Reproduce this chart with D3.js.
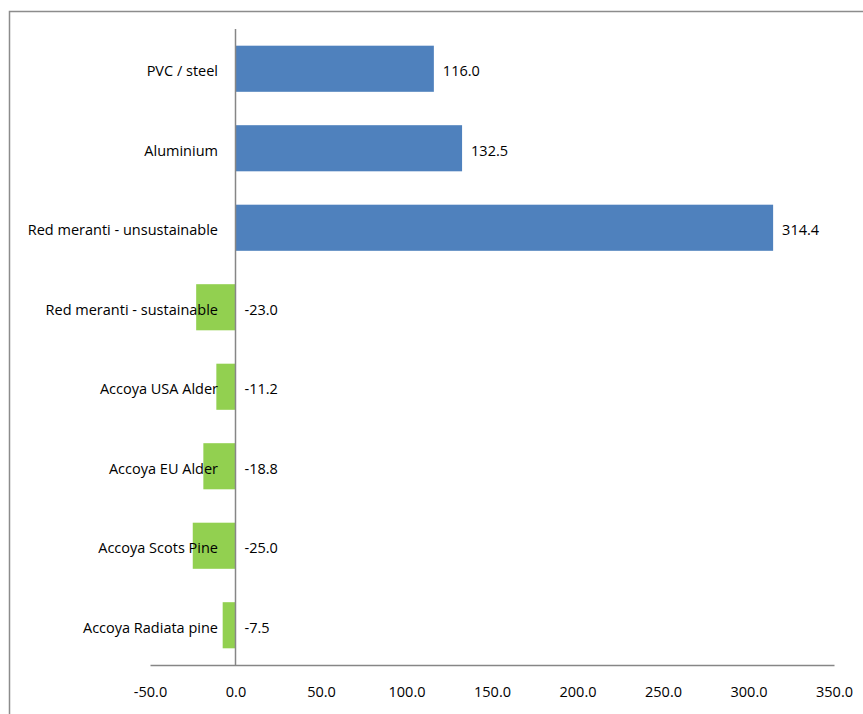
<!DOCTYPE html>
<html>
<head>
<meta charset="utf-8">
<script src="https://cdn.jsdelivr.net/npm/d3@7"></script>
<style>
  html, body { margin: 0; padding: 0; background: #fff; }
  svg { display: block; }
  text { font-family: "Open Sans", "Noto Sans", sans-serif; fill: #000; }
</style>
</head>
<body>
<svg id="chart" width="863" height="714"></svg>
<script>
const categories = ["PVC / steel", "Aluminium", "Red meranti - unsustainable", "Red meranti - sustainable",
                    "Accoya USA Alder", "Accoya EU Alder", "Accoya Scots Pine", "Accoya Radiata pine"];
const values = [116.0, 132.5, 314.4, -23.0, -11.2, -18.8, -25.0, -7.5];
const tickValues = [-50, 0, 50, 100, 150, 200, 250, 300, 350];

const svg = d3.select("#chart");
const fontSize = 14.5;
const fmt = v => d3.format(".1f")(v).replace("\u2212", "-");

// outer border (extends past the picture right & bottom)
svg.append("rect").attr("x", 9.5).attr("y", 11.5).attr("width", 900).attr("height", 800)
  .attr("fill", "none").attr("stroke", "#8c8c8c").attr("stroke-width", 1.5);

const x = d3.scaleLinear().domain([-50, 350]).range([150, 834]);
const y = d3.scaleBand().domain(categories).range([29, 665]).paddingInner(0.42).paddingOuter(0.21);

const data = categories.map((c, i) => ({ c, v: values[i] }));

// bars
svg.append("g").selectAll("rect").data(data).join("rect")
  .attr("x", d => x(Math.min(0, d.v)))
  .attr("width", d => Math.abs(x(d.v) - x(0)))
  .attr("y", d => y(d.c))
  .attr("height", y.bandwidth())
  .attr("fill", d => d.v >= 0 ? "#4F81BD" : "#92D050");

// vertical axis line at zero
svg.append("line").attr("x1", x(0)).attr("x2", x(0)).attr("y1", 29).attr("y2", 665)
  .attr("stroke", "#868686").attr("stroke-width", 1.5);

// horizontal axis
const xAxis = d3.axisBottom(x).tickValues(tickValues).tickSize(0).tickPadding(22)
  .tickFormat(fmt);
const gx = svg.append("g").attr("transform", "translate(0,665)").call(xAxis);
gx.select(".domain").attr("stroke", "#868686").attr("stroke-width", 1.5);
gx.selectAll("text").style("font-family", '"Open Sans", "Noto Sans", sans-serif')
  .style("font-size", fontSize + "px").attr("fill", "#000");

// category labels (drawn on top of bars)
svg.append("g").selectAll("text").data(data).join("text")
  .attr("x", 218)
  .attr("y", d => y(d.c) + y.bandwidth() / 2)
  .attr("dy", "0.5em")
  .attr("text-anchor", "end")
  .style("font-size", fontSize + "px")
  .text(d => d.c);

// value labels
svg.append("g").selectAll("text").data(data).join("text")
  .attr("x", d => x(Math.max(0, d.v)) + 9)
  .attr("y", d => y(d.c) + y.bandwidth() / 2)
  .attr("dy", "0.5em")
  .style("font-size", fontSize + "px")
  .text(d => fmt(d.v));
</script>
</body>
</html>
